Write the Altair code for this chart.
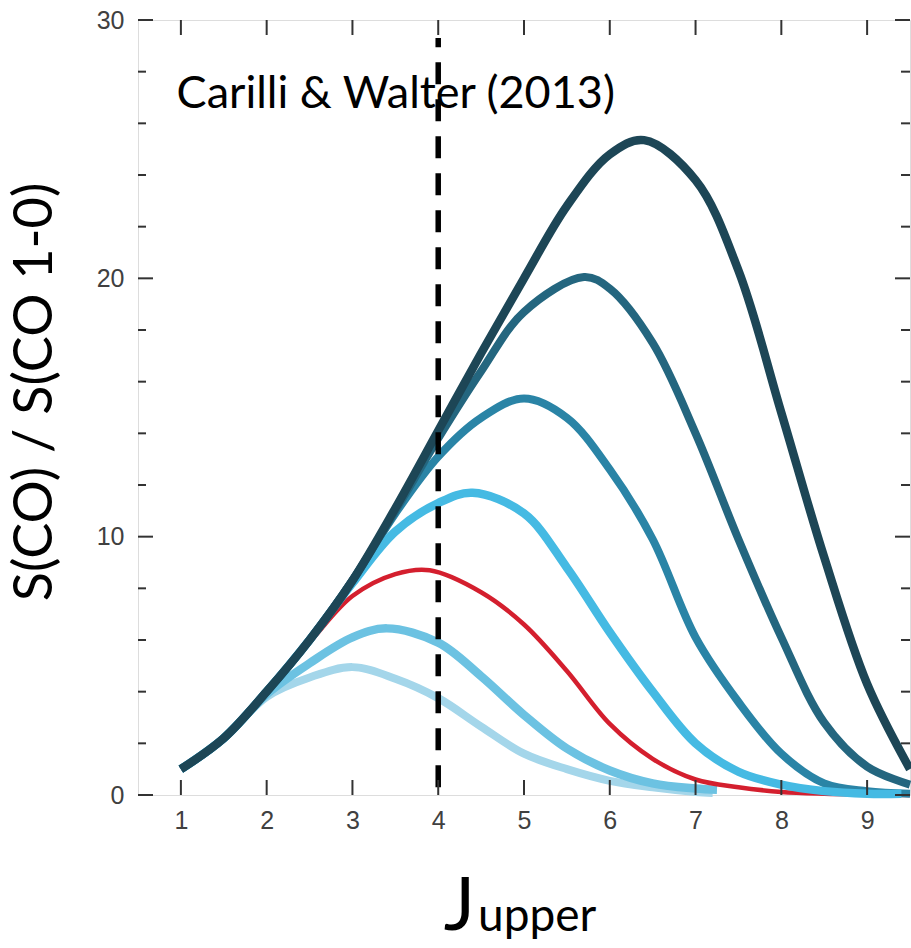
import altair as alt
import pandas as pd

# ---------------- data ----------------
c1_j = [1, 1.5, 2, 2.5, 3, 3.5, 4, 4.5, 5, 5.5, 6, 6.5, 7, 7.2]
c1_v = [1.0, 2.2, 3.8, 4.55, 4.95, 4.5, 3.75, 2.65, 1.6, 1.0, 0.55, 0.3, 0.12, 0.08]

c2_j = [1, 1.5, 2, 2.5, 3, 3.4, 4, 4.5, 5, 5.5, 6, 6.5, 7, 7.25]
c2_v = [1.0, 2.2, 3.9, 5.1, 6.1, 6.45, 5.9, 4.6, 3.1, 1.8, 0.95, 0.45, 0.25, 0.2]

red_j = [1, 1.5, 2, 2.5, 3, 3.5, 3.9, 4.5, 5, 5.5, 6, 6.5, 7, 7.5, 8, 8.5, 9, 9.5]
red_v = [1.0, 2.2, 4.0, 5.9, 7.7, 8.55, 8.7, 7.85, 6.6, 4.8, 2.75, 1.4, 0.6, 0.3, 0.12, 0.05, 0.02, 0.0]

c4_j = [1, 1.5, 2, 2.5, 3, 3.5, 4, 4.4, 5, 5.5, 6, 6.5, 7, 7.5, 8, 8.5, 9, 9.4]
c4_v = [1.0, 2.2, 4.0, 6.0, 8.2, 10.2, 11.3, 11.7, 10.9, 8.8, 6.3, 4.0, 2.0, 0.9, 0.4, 0.15, 0.05, 0.05]

c5_j = [1, 1.5, 2, 2.5, 3, 3.5, 4, 4.5, 5, 5.5, 6, 6.5, 7, 7.5, 8, 8.5, 9, 9.5]
c5_v = [1.0, 2.2, 4.0, 6.0, 8.3, 10.9, 13.1, 14.6, 15.35, 14.6, 12.6, 9.9, 6.1, 3.6, 1.6, 0.45, 0.15, 0.05]

c6_j = [1, 1.5, 2, 2.5, 3, 3.5, 4, 4.5, 5, 5.7, 6, 6.5, 7, 7.5, 8, 8.5, 9, 9.5]
c6_v = [1.0, 2.2, 4.0, 6.0, 8.3, 11.0, 13.8, 16.4, 18.7, 20.05, 19.6, 17.5, 14.0, 9.9, 6.1, 2.8, 1.1, 0.4]

c7_j = [1, 1.5, 2, 2.5, 3, 3.5, 4, 4.5, 5, 5.5, 6, 6.4, 7, 7.5, 8, 8.5, 9, 9.5]
c7_v = [1.0, 2.2, 4.0, 6.0, 8.3, 11.1, 14.1, 17.1, 20.0, 22.8, 24.8, 25.35, 23.8, 20.3, 14.8, 9.2, 4.3, 1.0]

x_tick_values = [1, 2, 3, 4, 5, 6, 7, 8, 9]
y_label_values = [0, 10, 20, 30]
y_minor_values = [2, 4, 6, 8, 12, 14, 16, 18, 22, 24, 26, 28]

marker_j = [4]
marker_y0 = [0.3]
marker_y1 = [29.3]

note_text = ["Carilli & Walter (2013)"]
note_j = [0.95]
note_v = [26.6]

y_title = "S(CO) / S(CO 1-0)"
x_title_main = "J"
x_title_sub = "upper"

# ---------------- styles ----------------
W, H = 772, 775
xscale = alt.Scale(domain=[0.5, 9.5], nice=False, zero=False)
yscale = alt.Scale(domain=[0, 30], nice=False, zero=False)

x_axis = alt.Axis(values=x_tick_values, ticks=False, domain=False, grid=False, title=None,
                  labelFont="Liberation Sans", labelFontSize=25, labelColor="#404040",
                  labelPadding=13, format="d")
y_axis = alt.Axis(values=y_label_values, ticks=False, domain=False, grid=False, title=None,
                  labelFont="Liberation Sans", labelFontSize=25, labelColor="#404040",
                  labelPadding=14, format="d")


def X(field):
    return alt.X(field, scale=xscale, axis=x_axis)


def Y(field):
    return alt.Y(field, scale=yscale, axis=y_axis)


styles = {
    "c1": ("#a4d6ea", 8),
    "c2": ("#6cc2e2", 8.5),
    "red": ("#d41f2e", 4.5),
    "c5": ("#2a84a6", 8),
    "c4": ("#45bae3", 8.5),
    "c6": ("#24667f", 8),
    "c7": ("#1d4656", 8.5),
}
series = {
    "c1": (c1_j, c1_v), "c2": (c2_j, c2_v), "red": (red_j, red_v),
    "c4": (c4_j, c4_v), "c5": (c5_j, c5_v), "c6": (c6_j, c6_v), "c7": (c7_j, c7_v),
}
draw_order = ["c1", "c2", "red", "c5", "c4", "c6", "c7"]

layers = []

for name in draw_order:
    js, vs = series[name]
    col, sw = styles[name]
    df = pd.DataFrame({"J": js, "v": vs})
    layers.append(
        alt.Chart(df).mark_line(color=col, strokeWidth=sw, interpolate="catmull-rom",
                                strokeCap="butt", strokeJoin="round").encode(
            x=X("J:Q"), y=Y("v:Q"),
        )
    )

# dashed marker at J = 4
mdf = pd.DataFrame({"J": marker_j, "y0": marker_y0, "y1": marker_y1})
layers.append(
    alt.Chart(mdf).mark_rule(color="black", strokeWidth=5.5, strokeDash=[22, 15]).encode(
        x=X("J:Q"), y=Y("y0:Q"), y2="y1:Q",
    )
)

# inward ticks
tick_col = "#333333"
ymaj = pd.DataFrame({"v": y_label_values})
ymin = pd.DataFrame({"v": y_minor_values})
xt = pd.DataFrame({"J": x_tick_values})
for df, l0, l1 in [(ymaj, 0, 15), (ymin, 0, 8), (ymaj, W, W - 15), (ymin, W, W - 9)]:
    layers.append(
        alt.Chart(df).mark_rule(color=tick_col, strokeWidth=2).encode(
            y=Y("v:Q"), x=alt.value(l0), x2=alt.value(l1),
        )
    )
for y0, y1 in [(0, 15), (H, H - 15)]:
    layers.append(
        alt.Chart(xt).mark_rule(color=tick_col, strokeWidth=2).encode(
            x=X("J:Q"), y=alt.value(y0), y2=alt.value(y1),
        )
    )

# annotation text
ndf = pd.DataFrame({"J": note_j, "v": note_v, "t": note_text})
layers.append(
    alt.Chart(ndf).mark_text(font="Lato", fontSize=45, align="left",
                             baseline="alphabetic", color="black").encode(
        x=X("J:Q"), y=Y("v:Q"), text="t:N",
    )
)

# axis titles
layers.append(
    alt.Chart(pd.DataFrame({"t": [y_title]})).mark_text(
        font="Lato", fontSize=54, angle=270, align="center",
        baseline="alphabetic", color="black").encode(
        x=alt.value(-86), y=alt.value(372), text="t:N")
)
layers.append(
    alt.Chart(pd.DataFrame({"t": [x_title_main]})).mark_text(
        font="Lato", fontSize=74, align="right", baseline="alphabetic",
        color="black").encode(x=alt.value(337), y=alt.value(910), text="t:N")
)
layers.append(
    alt.Chart(pd.DataFrame({"t": [x_title_sub]})).mark_text(
        font="Lato", fontSize=46, align="left", baseline="alphabetic",
        color="black").encode(x=alt.value(340), y=alt.value(911), text="t:N")
)

chart = alt.layer(*layers).properties(
    width=W, height=H,
    autosize=alt.AutoSizeParams(type="none"),
    padding={"left": 138, "top": 20, "right": 1, "bottom": 153},
).configure_view(stroke="#222222", strokeWidth=2).configure(background="white")

chart.save("out.html", embed_options={"renderer": "svg", "actions": False})
